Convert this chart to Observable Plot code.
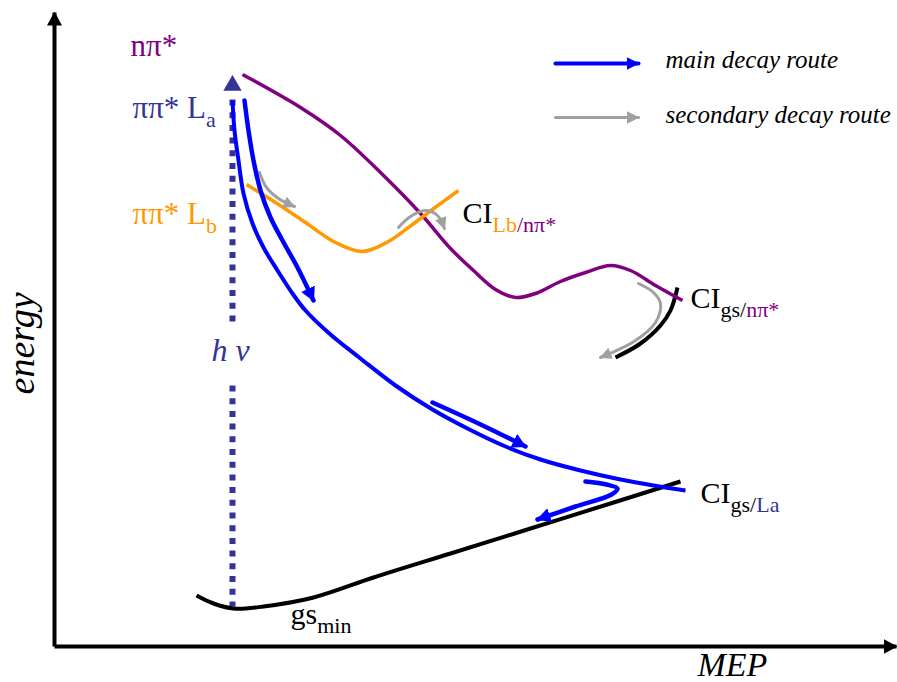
<!DOCTYPE html>
<html>
<head>
<meta charset="utf-8">
<script src="https://cdn.jsdelivr.net/npm/d3@7"></script>
<script src="https://cdn.jsdelivr.net/npm/@observablehq/plot@0.6"></script>
<style>
  body { margin: 0; background: #fff; }
  svg { display: block; }
</style>
</head>
<body>
<div id="chart"></div>
<script>
// Schematic potential-energy curves along the minimum-energy path (MEP).
// Coordinates: x = position along the MEP, y = energy (arbitrary units).

// Electronic states
const npiCurve = [[188,572],[246,539],[286,511],[326,474],[366,433],[396,398],[419,376],[441,357],[461,349],[481,353],[506,365],[531,374],[556,381],[576,376],[601,361],[628,346]];
const LbCurve = [[192,462],[221,444],[251,424],[281,404],[308,395],[334,405],[358,422],[382,440],[404,456]];
const LaCurve = [[178,546],[180,516],[184,486],[189,453],[198,423],[209,399],[223,376],[238,353],[251,336],[276,312],[306,288],[341,261],[378,237],[413,218],[451,200],[486,187],[526,176],[566,167],[599,161],[631,156]];
const gsCurve = [[142,51],[159,43],[179,38],[209,40],[259,49],[319,69],[396,93],[476,118],[556,143],[626,165]];
const gsNpiSeam = [[623,359],[616,336],[606,321],[586,303],[561,289]];

// Decay routes
const mainRoutes = [
  [[190,546],[194,516],[199,486],[206,456],[216,429],[228,406],[243,379],[259,346]],
  [[378,244],[424,223],[471,200]],
  [[531,165],[552,162],[563,158],[557,152],[521,140],[483,127]]
];
const secondaryRoutes = [
  [[205,474],[212,459],[224,448],[240,440]],
  [[344,419],[356,430],[371,436],[383,431],[390,418]],
  [[584,363],[599,354],[606,343],[601,324],[581,306],[546,289]]
];

// Vertical excitation (hν) at the ground-state minimum
const excitationX = 178;
const excitationSpans = [[547,324],[261,40]];
const excitationTop = 561;

// Axes extents
const mepMax = 842;
const energyMax = 634;

// Legend
const legendItems = [
  {route: "main", y: 579, label: "main decay route"},
  {route: "secondary", y: 524, label: "secondary decay route"}
];
const legendArrowY = {main: 583, secondary: 529};
const legendX0 = 501, legendX1 = 584, legendTextX = 611;

// Labels: [text, colour key, role]
const stateLabels = [
  {x: 76, y: 591, parts: [["nπ*", "npi"]]},
  {x: 78, y: 529, parts: [["ππ* L", "La"], ["a", "La", "sub"]]},
  {x: 78, y: 423, parts: [["ππ* L", "Lb"], ["b", "Lb", "sub"]]}
];
const pointLabels = [
  {x: 408, y: 424, parts: [["CI", "gs"], ["Lb", "Lb", "sub"], ["/nπ*", "npi", "sub"]]},
  {x: 636, y: 339, parts: [["CI", "gs"], ["gs/", "gs", "sub"], ["nπ*", "npi", "sub"]]},
  {x: 646, y: 144, parts: [["CI", "gs"], ["gs/", "gs", "sub"], ["La", "La", "sub"]]},
  {x: 236, y: 23, parts: [["gs", "gs"], ["min", "gs", "sub"]]}
];

const colors = {
  npi: "#800080", La: "#333399", Lb: "#ff9900", gs: "#000000",
  main: "#0000ff", secondary: "#a0a0a0"
};

// Filled triangular arrowhead marker
function arrowHead(len, half) {
  return (color) => {
    const ns = "http://www.w3.org/2000/svg";
    const m = document.createElementNS(ns, "marker");
    m.setAttribute("viewBox", `${-len} ${-half} ${len + 1} ${2 * half}`);
    m.setAttribute("markerUnits", "userSpaceOnUse");
    m.setAttribute("markerWidth", len + 1);
    m.setAttribute("markerHeight", 2 * half);
    m.setAttribute("refX", 0);
    m.setAttribute("refY", 0);
    m.setAttribute("orient", "auto");
    const p = document.createElementNS(ns, "path");
    p.setAttribute("d", `M${-len},${-half}L1,0L${-len},${half}Z`);
    p.setAttribute("fill", color);
    p.setAttribute("stroke", "none");
    m.appendChild(p);
    return m;
  };
}

const X = d => d[0], Y = d => d[1];
const serif = "'Liberation Serif', 'Times New Roman', serif";
const joined = d => d.parts.map(p => p[0]).join("");

const curve = (data, color, w = 4) =>
  Plot.line(data, {x: X, y: Y, stroke: color, strokeWidth: w, curve: "catmull-rom", strokeLinecap: "butt"});

const plot = Plot.plot({
  width: 897,
  height: 682,
  margin: 0,
  x: {domain: [0, 843], range: [54, 897], axis: null},
  y: {domain: [0, 640], range: [646, 6], axis: null},
  style: {background: "#fff", fontFamily: serif},
  marks: [
    // axes
    Plot.link([[0, 0, 0, energyMax]], {x1: d => d[0], y1: d => d[1], x2: d => d[2], y2: d => d[3], stroke: "#000", strokeWidth: 4, markerEnd: arrowHead(13, 7.5)}),
    Plot.link([[0, 0, mepMax, 0]], {x1: d => d[0], y1: d => d[1], x2: d => d[2], y2: d => d[3], stroke: "#000", strokeWidth: 4, markerEnd: arrowHead(13, 7.5)}),

    // excitation
    ...excitationSpans.map(([a, b]) =>
      Plot.line([[excitationX, a], [excitationX, b]], {x: X, y: Y, stroke: colors.La, strokeWidth: 6, strokeDasharray: "6,6.7", strokeLinecap: "butt"})),
    Plot.dot([[excitationX, excitationTop]], {x: X, y: Y, symbol: "triangle", r: 6.8, fill: colors.La, stroke: "none"}),

    // states
    curve(gsCurve, colors.gs),
    curve(gsNpiSeam, colors.gs),
    curve(npiCurve, colors.npi, 3.5),
    curve(LbCurve, colors.Lb, 3.5),
    curve(LaCurve, colors.main, 4),

    // decay routes
    ...secondaryRoutes.map(r => Plot.line(r, {x: X, y: Y, stroke: colors.secondary, strokeWidth: 3, curve: "catmull-rom", markerEnd: arrowHead(11, 6)})),
    ...mainRoutes.map(r => Plot.line(r, {x: X, y: Y, stroke: colors.main, strokeWidth: 4.5, curve: "catmull-rom", markerEnd: arrowHead(13, 7.5)})),

    // legend
    ...legendItems.map(d => Plot.line([[legendX0, legendArrowY[d.route]], [legendX1, legendArrowY[d.route]]], {x: X, y: Y, stroke: colors[d.route], strokeWidth: d.route === "main" ? 4 : 3, markerEnd: arrowHead(12, 6.5)})),
    Plot.text(legendItems, {x: legendTextX, y: "y", text: "label", textAnchor: "start", lineAnchor: "bottom", fontSize: 25, fontStyle: "italic", fill: "#000"}),

    // labels
    Plot.text(stateLabels, {x: "x", y: "y", text: joined, textAnchor: "start", lineAnchor: "bottom", fontSize: 31}),
    Plot.text(pointLabels, {x: "x", y: "y", text: joined, textAnchor: "start", lineAnchor: "bottom", fontSize: 30}),
    Plot.text(["h ν"], {x: excitationX - 2, y: 286, text: d => d, textAnchor: "middle", lineAnchor: "bottom", fontSize: 32, fontStyle: "italic", fill: colors.La}),
    Plot.text(["MEP"], {x: 643, y: -29, text: d => d, textAnchor: "start", lineAnchor: "bottom", fontSize: 34, fontStyle: "italic", fill: "#000"}),
    Plot.text(["energy"], {x: -33, y: 303, text: d => d, rotate: -90, textAnchor: "middle", fontSize: 38, fontStyle: "italic", fill: "#000"})
  ]
});

// Compose coloured, subscripted labels from their parts
const labelByText = new Map([...stateLabels, ...pointLabels].map(d => [joined(d), d]));
d3.select(plot).selectAll("text").each(function () {
  const d = labelByText.get(this.textContent);
  if (!d) return;
  const el = d3.select(this);
  el.text(null);
  let shift = 0;
  for (const [t, key, role] of d.parts) {
    const target = role === "sub" ? 9 : 0;
    const ts = el.append("tspan").text(t).attr("fill", colors[key]);
    if (target !== shift) { ts.attr("dy", target - shift); shift = target; }
    if (role === "sub") ts.attr("font-size", 22);
  }
});

document.getElementById("chart").appendChild(plot);
</script>
</body>
</html>
